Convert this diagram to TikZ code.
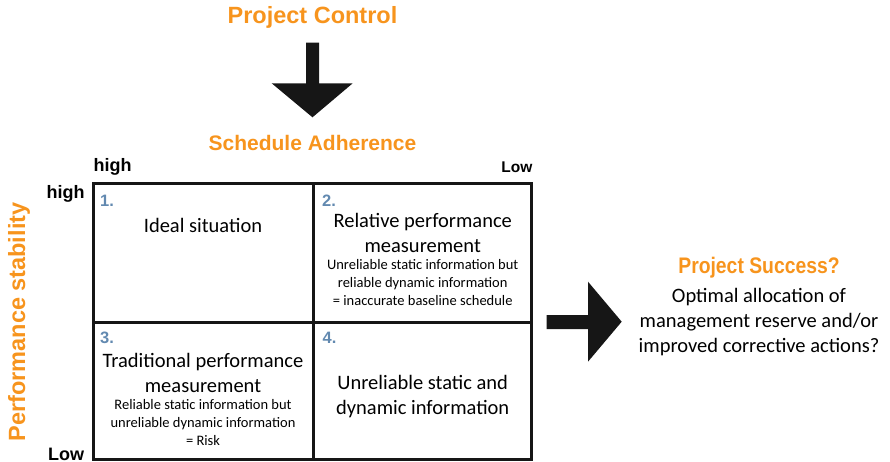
\documentclass[tikz,border=0pt]{standalone}
\usepackage{fontspec}
\usepackage{graphicx}
\setmainfont{Carlito}
\newfontfamily\helv{Liberation Sans}
\definecolor{orangeh}{HTML}{F7941D}
\definecolor{numblue}{HTML}{6289B0}
\definecolor{darkfill}{HTML}{161616}
\tikzset{
  headline/.style={font=\helv\bfseries\fontsize{#1}{#1}\selectfont, text=orangeh, inner sep=0pt, anchor=base},
  axislabel/.style={font=\helv\bfseries\fontsize{#1}{#1}\selectfont, text=black, inner sep=0pt},
  cellnum/.style={font=\helv\bfseries\fontsize{16.5}{16.5}\selectfont, text=numblue, inner sep=0pt, anchor=base west},
  cell/.style={draw=darkfill, line width=3pt, minimum height=138pt, inner sep=0pt},
  bigtxt/.style={font=\fontsize{20.5}{25}\selectfont, align=center, inner sep=0pt, anchor=base},
  smalltxt/.style={font=\fontsize{14.5}{17.7}\selectfont, align=center, inner sep=0pt, anchor=base},
  bigarrow/.style={fill=darkfill, draw=none}
}
\begin{document}
\begin{tikzpicture}[x=1pt,y=-1pt]
\useasboundingbox (0,0) rectangle (890,462);

% titles
\node[headline=23.5] (pc) at (312.5,24) {Project Control};
\node[headline=21] (sa) at (312.5,151) {Schedule Adherence};

% down arrow
\fill[bigarrow] (306,42.7) -- (319,42.7) -- (319,83.3) -- (352.7,83.3) -- (312.5,117.3) -- (271.7,83.3) -- (306,83.3) -- cycle;

% axis labels
\node[axislabel=18, anchor=base west] (hightop) at (93.5,171.7) {high};
\node[axislabel=15.5, anchor=base east] (lowtop) at (532.5,172.7) {Low};
\node[axislabel=18, anchor=base west] (highleft) at (46.5,199) {high};
\node[axislabel=18, anchor=base west] (lowleft) at (48,460) {Low};
\node[headline=23.5, rotate=90] (ps) at (25,322) {Performance stability};

% cells
\node[cell, minimum width=220pt] (q1) at (203,253) {};
\node[cell, minimum width=218pt] (q2) at (422,253) {};
\node[cell, minimum width=220pt, minimum height=137pt] (q3) at (203,390.5) {};
\node[cell, minimum width=218pt, minimum height=137pt] (q4) at (422,390.5) {};

\node[cellnum] (n1) at (100,206.5) {1.};
\node[cellnum] (n2) at (322,206.5) {2.};
\node[cellnum] (n3) at (100,343.5) {3.};
\node[cellnum] (n4) at (322.5,343.5) {4.};

\node[bigtxt] (t1) at (203,232) {Ideal situation};
\node[bigtxt] (t2) at (422.7,252) {Relative performance\\measurement};
\node[smalltxt] (s2) at (422.7,305) {Unreliable static information but\\reliable dynamic information\\= inaccurate baseline schedule};
\node[bigtxt] (t3) at (203,392.6) {Traditional performance\\measurement};
\node[smalltxt] (s3) at (203,445) {Reliable static information but\\unreliable dynamic information\\= Risk};
\node[bigtxt] (t4) at (422.7,414) {Unreliable static and\\dynamic information};

% right arrow
\fill[bigarrow] (546.7,315) -- (588,315) -- (588,281.7) -- (621.7,321.7) -- (588,361.7) -- (588,329) -- (546.7,329) -- cycle;

% project success
\node[headline=22.5, xscale=0.86] (psucc) at (759,273) {Project Success?};
\node[bigtxt] (opt) at (759,352) {Optimal allocation of\\management reserve and/or\\improved corrective actions?};
\end{tikzpicture}
\end{document}
